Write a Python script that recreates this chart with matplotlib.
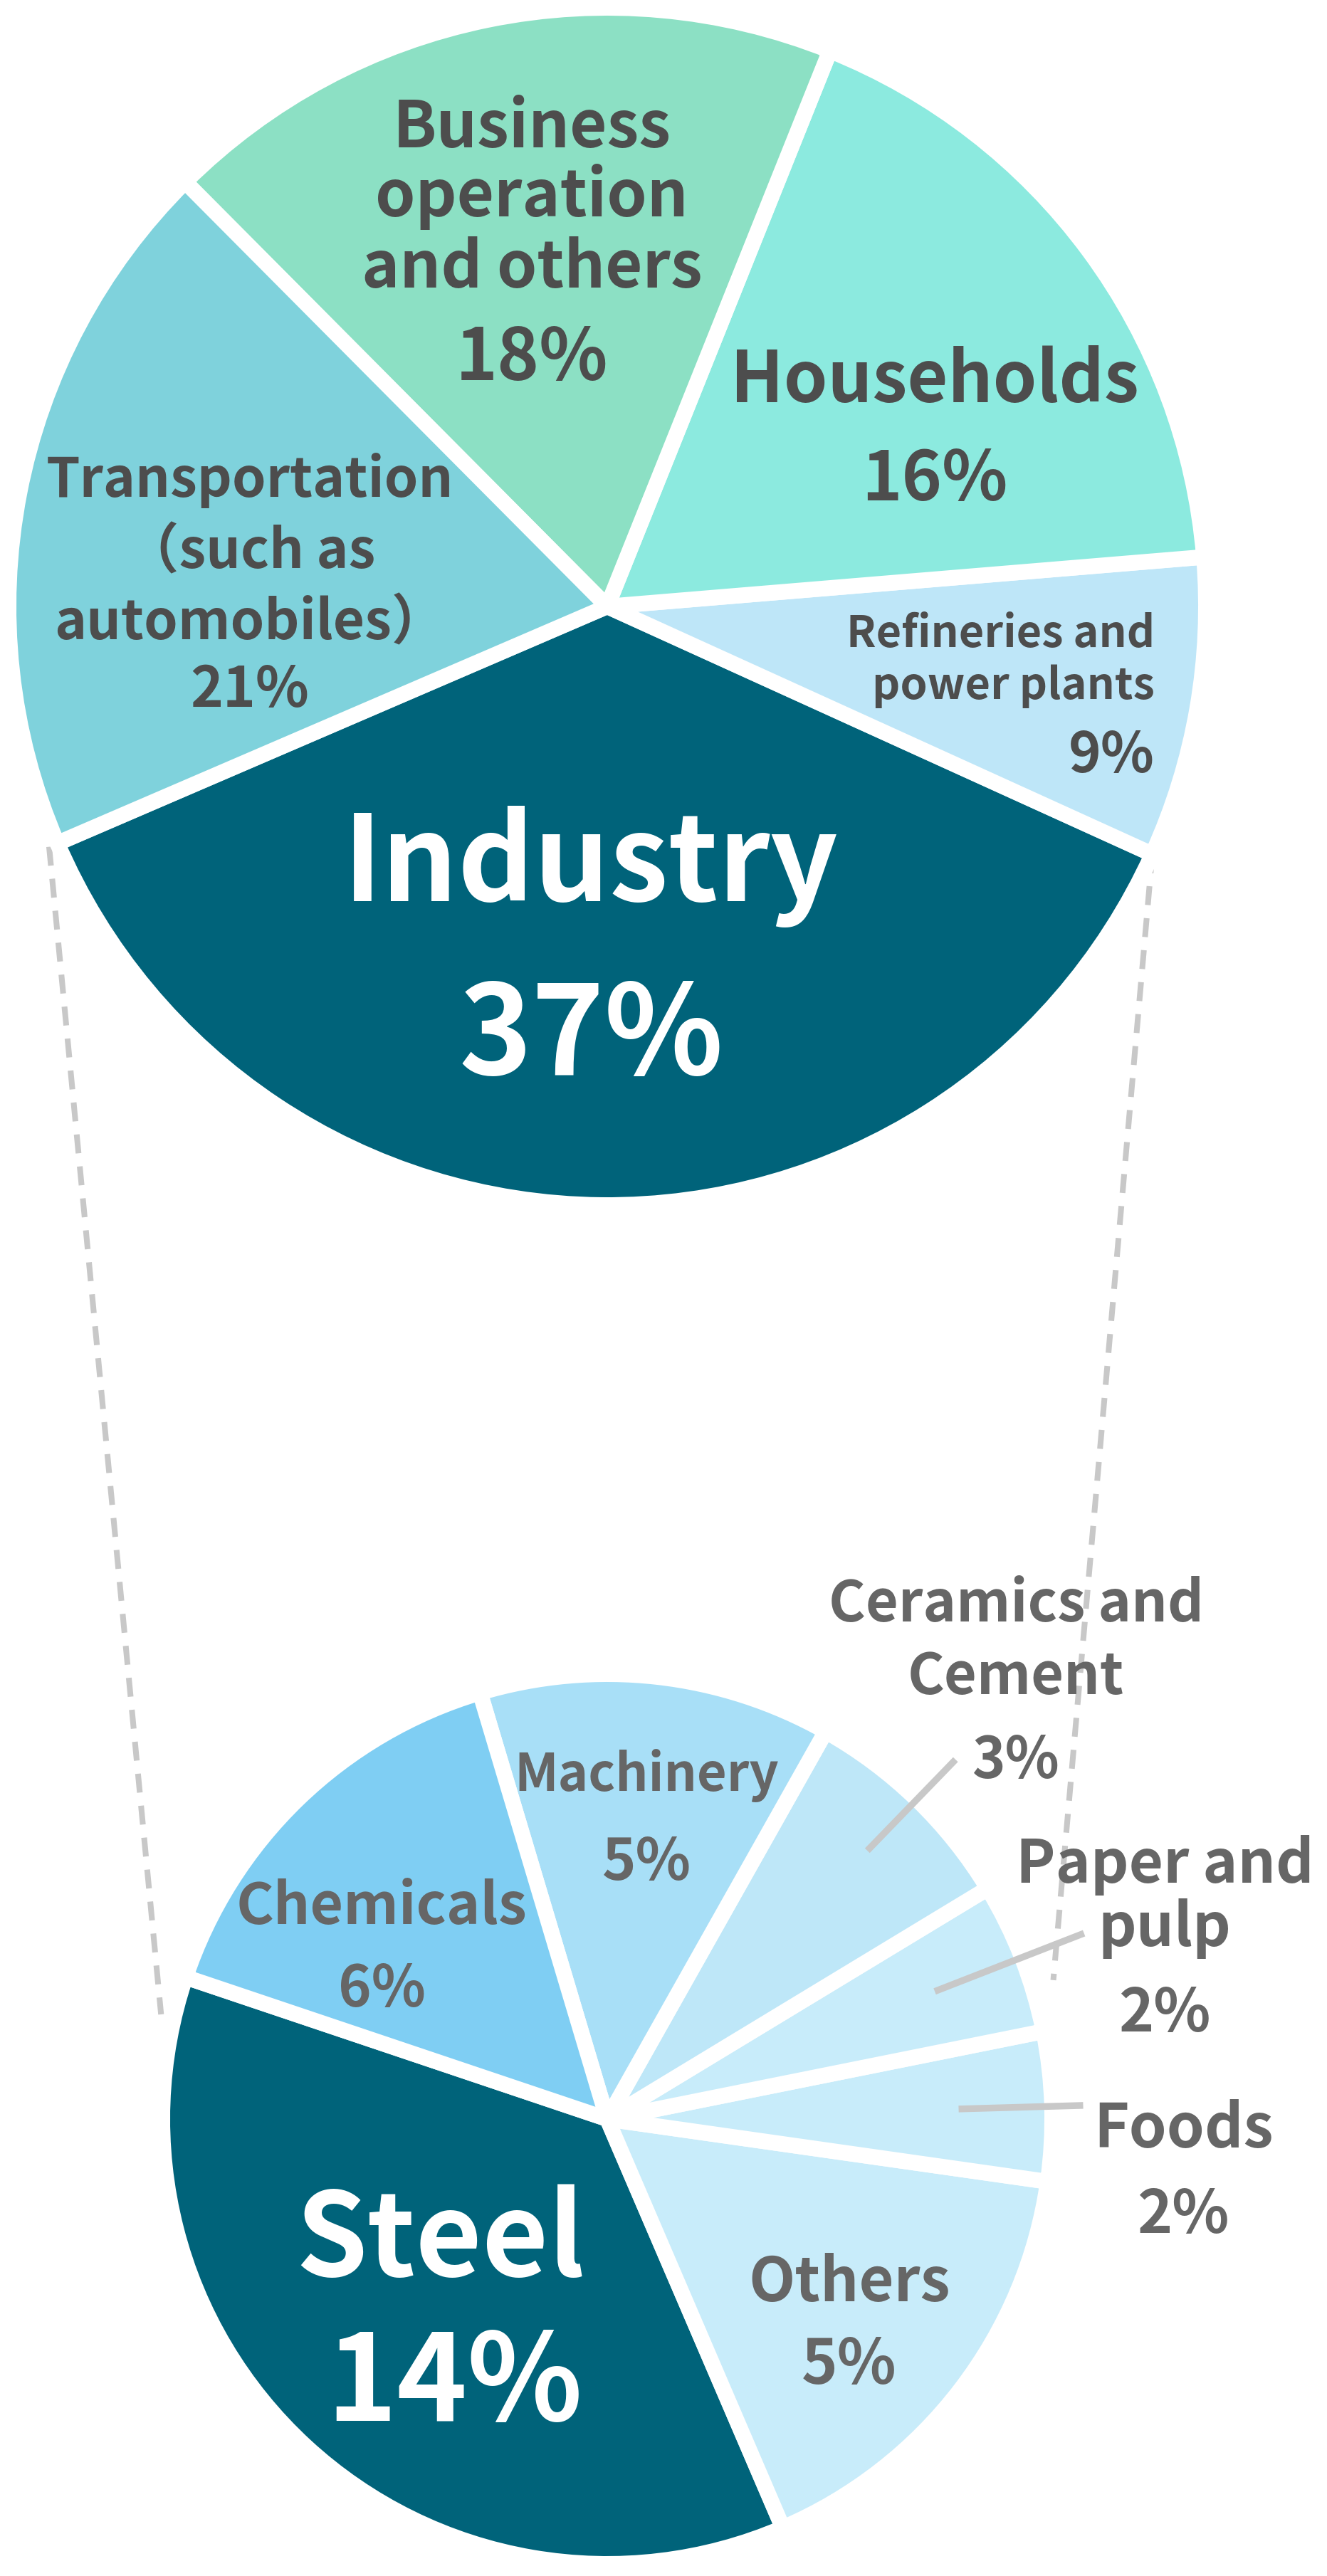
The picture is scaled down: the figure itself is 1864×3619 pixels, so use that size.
import numpy as np
import matplotlib
matplotlib.use("Agg")
import matplotlib.pyplot as plt

plt.rcParams['font.family'] = ['Noto Sans CJK JP', 'DejaVu Sans']

W, H = 1865, 3619

# Upper pie: energy consumption by sector (counter-clockwise from the bottom-left)
sectors = ['Industry', 'Refineries and\npower plants', 'Households',
           'Business\noperation\nand others', 'Transportation\n（such as\nautomobiles）']
sector_pct = [37, 9, 16, 18, 21]
sector_share = [36.7, 8.1, 17.6, 18.5, 19.0]   # slice sizes as drawn
sector_colors = ['#00637a', '#bee6f8', '#8ceadf', '#8ce0c4', '#7fd2dc']

# Lower pie: breakdown of industry
industries = ['Steel', 'Others', 'Foods', 'Paper and\npulp', 'Ceramics and\nCement',
              'Machinery', 'Chemicals']
industry_pct = [14, 5, 2, 2, 3, 5, 6]
industry_share = [13.55, 6.03, 2.0, 2.04, 3.02, 4.73, 5.63]
industry_colors = ['#00637a', '#c8ecfa', '#c8ecfa', '#c8ecfa', '#bee7f8',
                   '#a8dff7', '#7fcef3']

DARK = '#4d4d4d'
GRAY = '#666666'
LEADER = '#c8c8c8'
EDGE_PT = 22 * 72 / 100   # 22 px white gaps


def iy(y):
    # image pixel row -> data y
    return H - y


def polar(c, ang, r):
    a = np.deg2rad(ang)
    return c[0] + r * np.cos(a), c[1] + r * np.sin(a)


def put_label(ax, text, pct, x, bases, size, pct_size, color, ha='center', pct_x=None):
    lines = text.split('\n')
    for line, b in zip(lines, bases[:-1]):
        ax.text(x, iy(b), line, ha=ha, va='baseline', fontsize=size,
                fontweight='bold', color=color, zorder=5)
    ax.text(x if pct_x is None else pct_x, iy(bases[-1]), f'{pct}%', ha=ha,
            va='baseline', fontsize=pct_size, fontweight='bold', color=color, zorder=5)


fig = plt.figure(figsize=(W / 100, H / 100), dpi=100)
ax = fig.add_axes([0, 0, 1, 1])

top_c = (853, iy(852))
top_r = 841
bot_c = (853, iy(2977))
bot_r = 625

wp = dict(edgecolor='white', linewidth=EDGE_PT, joinstyle='round')
top_wedges, _ = ax.pie(sector_share, colors=sector_colors, startangle=203.3,
                       center=top_c, radius=top_r, wedgeprops=wp)
bot_wedges, _ = ax.pie(industry_share, colors=industry_colors, startangle=161.4,
                       center=bot_c, radius=bot_r, wedgeprops=wp)

# dashed connectors from the Industry slice to the breakdown pie
ind = top_wedges[0]
for a_top, r_top, a_bot, r_bot in [(ind.theta1, 1.015, 166.8, 1.03),
                                   (ind.theta2, 1.0, 17.3, 1.05)]:
    x0, y0 = polar(top_c, a_top, top_r * r_top)
    x1, y1 = polar(bot_c, a_bot, bot_r * r_bot)
    ax.plot([x0, x1], [y0, y1], color=LEADER, lw=5.8, dashes=(3.3, 2.3),
            solid_capstyle='butt', dash_capstyle='butt', zorder=0)

# leader lines for the small slices
for i, (r0, r1) in zip([2, 3, 4], [(0.79, 1.07), (0.79, 1.15), (0.84, 1.125)]):
    w = bot_wedges[i]
    mid = (w.theta1 + w.theta2) / 2
    x0, y0 = polar(bot_c, mid, bot_r * r0)
    x1, y1 = polar(bot_c, mid, bot_r * r1)
    ax.plot([x0, x1], [y0, y1], color=LEADER, lw=6.8, solid_capstyle='butt', zorder=4)

# labels, upper pie
put_label(ax, sectors[0], sector_pct[0], 830, [1266, 1510], 120, 125, 'white')
put_label(ax, sectors[1], sector_pct[1], 1622, [909, 982, 1085], 44, 56, DARK, ha='right')
put_label(ax, sectors[2], sector_pct[2], 1313, [565, 703], 71, 69, DARK)
put_label(ax, sectors[3], sector_pct[3], 747, [207, 304, 404, 534], 65, 72, DARK)
put_label(ax, sectors[4], sector_pct[4], 351, [698, 798, 898, 993], 55, 56, DARK)

# labels, lower pie
put_label(ax, industries[0], industry_pct[0], 618, [3198, 3401], 116, 121, 'white', pct_x=638)
put_label(ax, industries[1], industry_pct[1], 1193, [3233, 3349], 61, 62, GRAY)
put_label(ax, industries[2], industry_pct[2], 1662, [3017, 3137], 61, 60, GRAY)
put_label(ax, industries[3], industry_pct[3], 1636, [2645, 2734, 2854], 60, 60, GRAY)
put_label(ax, industries[4], industry_pct[4], 1427, [2278, 2380, 2498], 57, 57, GRAY)
put_label(ax, industries[5], industry_pct[5], 908, [2516, 2641], 52, 58, GRAY)
put_label(ax, industries[6], industry_pct[6], 536, [2703, 2819], 58, 57, GRAY)

ax.set_xlim(0, W)
ax.set_ylim(0, H)
ax.set_aspect('auto')
ax.axis('off')

fig.savefig('out.png', dpi=100, facecolor='white')
